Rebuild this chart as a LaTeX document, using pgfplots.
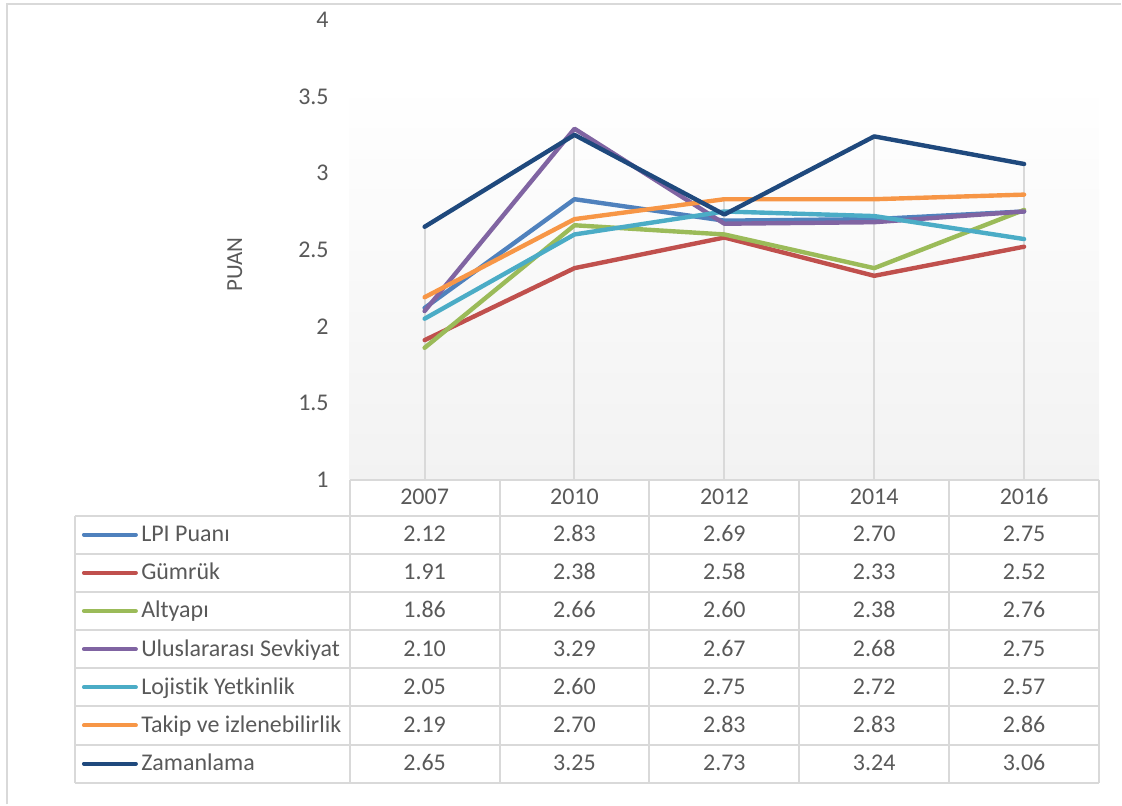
\documentclass[border=0pt]{standalone}
\usepackage{fontspec}
\setmainfont{Carlito}[Ligatures={NoCommon}]
\usepackage{pgfplots}
\pgfplotsset{compat=1.18}

\definecolor{lpi}{HTML}{4F81BD}
\definecolor{gumruk}{HTML}{C0504D}
\definecolor{altyapi}{HTML}{9BBB59}
\definecolor{sevkiyat}{HTML}{8064A2}
\definecolor{yetkin}{HTML}{4BACC6}
\definecolor{takip}{HTML}{F79646}
\definecolor{zaman}{HTML}{1F497D}
\definecolor{txt}{HTML}{595959}
\definecolor{rule}{HTML}{D9D9D9}
\definecolor{bgbot}{HTML}{F2F2F2}

\begin{document}
\begin{tikzpicture}
% page frame and plot-area wall, in image pixels (1px = 0.5pt)
\begin{scope}[x=0.5pt, y=-0.5pt, shift={(-350,-480)}]
  \path (0,0) rectangle (1122,805);
  \fill[top color=white, bottom color=bgbot] (350,82) rectangle (1100,480);
  \draw[rule, line width=1pt] (7,805) -- (7,4) -- (1122,4);
\end{scope}

\begin{axis}[
    at={(0,0)}, anchor=south west,
    scale only axis,
    width=375pt, height=230pt,
    xmin=-0.5, xmax=4.5,
    ymin=1, ymax=4,
    xtick=\empty,
    ytick={1,1.5,2,2.5,3,3.5,4},
    axis line style={draw=none},
    major tick length=0pt,
    /pgf/number format/assume math mode=true,
    yticklabel style={font=\fontsize{12}{14}\selectfont, text=txt, xshift=-7pt},
    every axis plot/.append style={line width=2.2pt, line join=round, line cap=round, mark=none},
  ]
  % drop lines
  \addplot[ycomb, rule, line width=1pt] coordinates {(0,2.65)(1,3.29)(2,2.83)(3,3.24)(4,3.06)};

  \addplot[lpi]      coordinates {(0,2.12)(1,2.83)(2,2.69)(3,2.70)(4,2.75)};
  \addplot[gumruk]   coordinates {(0,1.91)(1,2.38)(2,2.58)(3,2.33)(4,2.52)};
  \addplot[altyapi]  coordinates {(0,1.86)(1,2.66)(2,2.60)(3,2.38)(4,2.76)};
  \addplot[sevkiyat] coordinates {(0,2.10)(1,3.29)(2,2.67)(3,2.68)(4,2.75)};
  \addplot[yetkin]   coordinates {(0,2.05)(1,2.60)(2,2.75)(3,2.72)(4,2.57)};
  \addplot[takip]    coordinates {(0,2.19)(1,2.70)(2,2.83)(3,2.83)(4,2.86)};
  \addplot[zaman]    coordinates {(0,2.65)(1,3.25)(2,2.73)(3,3.24)(4,3.06)};
\end{axis}

% data table and axis title
\begin{scope}[x=0.5pt, y=-0.5pt, shift={(-350,-480)},
    every node/.style={font=\fontsize{12}{14}\selectfont, text=txt, inner sep=0pt}]
  \node[rotate=90, font=\fontsize{11.5}{13}\selectfont] at (235,265) {PUAN};

  \draw[rule, line width=1pt] (350,480) -- (1100,480);
  \foreach \yy in {516,554.2,592.4,630.6,668.8,707,745.2,783.4}
    \draw[rule, line width=1pt] (75,\yy) -- (1100,\yy);
  \draw[rule, line width=1pt] (75,516) -- (75,783.4);
  \foreach \xx in {350,500,650,800,950,1100}
    \draw[rule, line width=1pt] (\xx,480) -- (\xx,783.4);

  \foreach \yr [count=\i from 0] in {2007,2010,2012,2014,2016}
    \node[anchor=base] at (425+150*\i,505) {\yr};

  \foreach \nm/\cl/\va/\vb/\vc/\vd/\ve [count=\r from 0] in {
      LPI Puanı/lpi/2.12/2.83/2.69/2.70/2.75,
      Gümrük/gumruk/1.91/2.38/2.58/2.33/2.52,
      Altyapı/altyapi/1.86/2.66/2.60/2.38/2.76,
      Uluslararası Sevkiyat/sevkiyat/2.10/3.29/2.67/2.68/2.75,
      Lojistik Yetkinlik/yetkin/2.05/2.60/2.75/2.72/2.57,
      Takip ve izlenebilirlik/takip/2.19/2.70/2.83/2.83/2.86,
      Zamanlama/zaman/2.65/3.25/2.73/3.24/3.06} {
    \pgfmathsetmacro\yc{535.1+38.2*\r}
    \pgfmathsetmacro\yb{\yc+7}
    \draw[\cl, line width=2pt, line cap=round] (84,\yc) -- (136,\yc);
    \node[anchor=base west] at (141,\yb) {\nm};
    \node[anchor=base] at (425,\yb) {\va};
    \node[anchor=base] at (575,\yb) {\vb};
    \node[anchor=base] at (725,\yb) {\vc};
    \node[anchor=base] at (875,\yb) {\vd};
    \node[anchor=base] at (1025,\yb) {\ve};
  }
\end{scope}
\end{tikzpicture}
\end{document}
